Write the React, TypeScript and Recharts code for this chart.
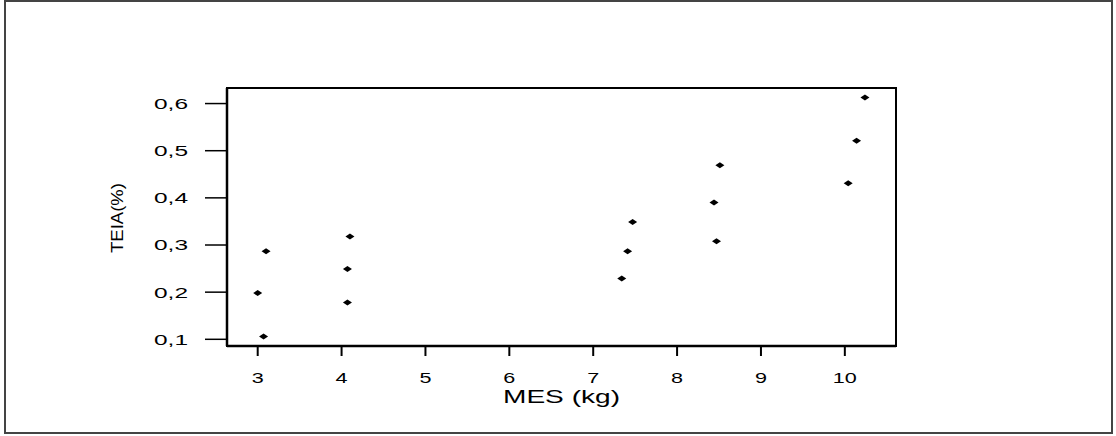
import { ScatterChart, Scatter, XAxis, YAxis, ReferenceArea } from 'recharts';

// MES (kg) vs TEIA (%)
const mes = [3.0, 3.07, 3.1, 4.07, 4.07, 4.1, 7.34, 7.41, 7.47, 8.44, 8.47, 8.51, 10.04, 10.14, 10.24];
const teia = [0.198, 0.106, 0.287, 0.178, 0.249, 0.318, 0.229, 0.287, 0.349, 0.39, 0.308, 0.469, 0.431, 0.521, 0.613];

const xTicks = [3, 4, 5, 6, 7, 8, 9, 10];
const yTicks = [0.1, 0.2, 0.3, 0.4, 0.5, 0.6];
const xDomain = [2.634, 10.61];
const yDomain = [0.0858, 0.633];

const data = mes.map((m, i) => ({ x: m, y: teia[i] }));

const font = '"Liberation Sans", Arial, sans-serif';

const labelWidth = (s: string) =>
    s.split('').reduce((w, ch) => w + (ch === ',' ? 10 : 12), 0);

const fmt = (v: number) => v.toFixed(1).replace('.', ',');

const XTick = ({ x, y, payload }: any) => (
    <text x={x} y={y} dy="0.71em" textAnchor="middle" fontSize={15} fontFamily={font} fill="#000"
        textLength={String(payload.value).length * 12} lengthAdjust="spacingAndGlyphs">
        {payload.value}
    </text>
);

const YTick = ({ x, y, payload }: any) => {
    const s = fmt(payload.value);
    return (
        <text x={x} y={y} dy="0.36em" textAnchor="end" fontSize={15} fontFamily={font} fill="#000"
            textLength={labelWidth(s)} lengthAdjust="spacingAndGlyphs">
            {s}
        </text>
    );
};

const Diamond = ({ cx, cy }: any) => (
    <path d={`M${cx - 4.5},${cy} L${cx},${cy - 3} L${cx + 4.5},${cy} L${cx},${cy + 3} Z`} fill="#000" />
);

const XLabel = ({ viewBox }: any) => (
    <text x={viewBox.x + viewBox.width / 2} y={viewBox.y + 57} textAnchor="middle" fontSize={18}
        fontFamily={font} fill="#000" textLength={117} lengthAdjust="spacingAndGlyphs">
        MES (kg)
    </text>
);

const YLabel = ({ viewBox }: any) => {
    const cx = viewBox.x + 16;
    const cy = viewBox.y + viewBox.height / 2 + 1;
    return (
        <text x={cx} y={cy} transform={`rotate(-90, ${cx}, ${cy})`} textAnchor="middle" fontSize={17}
            fontFamily={font} fill="#000" textLength={70} lengthAdjust="spacingAndGlyphs">
            TEIA(%)
        </text>
    );
};

const App = () => {
    return (
        <div style={{ position: 'absolute', left: 0, top: 0, width: 1116, height: 436, background: '#fff' }}>
            <div style={{
                position: 'absolute', left: 4, top: 0, width: 1109, height: 434,
                border: '2px solid #444', boxSizing: 'border-box'
            }} />
            <ScatterChart width={1116} height={436} margin={{ top: 88, right: 220, bottom: 30, left: 107 }}
                style={{ position: 'absolute', left: 0, top: 0 }}>
                <XAxis dataKey="x" type="number" domain={xDomain} ticks={xTicks} height={60}
                    axisLine={{ stroke: '#000', strokeWidth: 2.5 }}
                    tickLine={{ stroke: '#000', strokeWidth: 2 }} tickSize={10} tickMargin={16}
                    tick={<XTick />} label={<XLabel />} />
                <YAxis dataKey="y" type="number" domain={yDomain} ticks={yTicks} width={120}
                    axisLine={{ stroke: '#000', strokeWidth: 2.5 }}
                    tickLine={{ stroke: '#000', strokeWidth: 1.5 }} tickSize={22} tickMargin={17}
                    tick={<YTick />} label={<YLabel />} />
                <ReferenceArea x1={xDomain[0]} x2={xDomain[1]} y1={yDomain[0]} y2={yDomain[1]}
                    fill="none" stroke="#000" strokeWidth={2} />
                <Scatter data={data} shape={<Diamond />} isAnimationActive={false} />
            </ScatterChart>
        </div>
    );
};

export default App;
